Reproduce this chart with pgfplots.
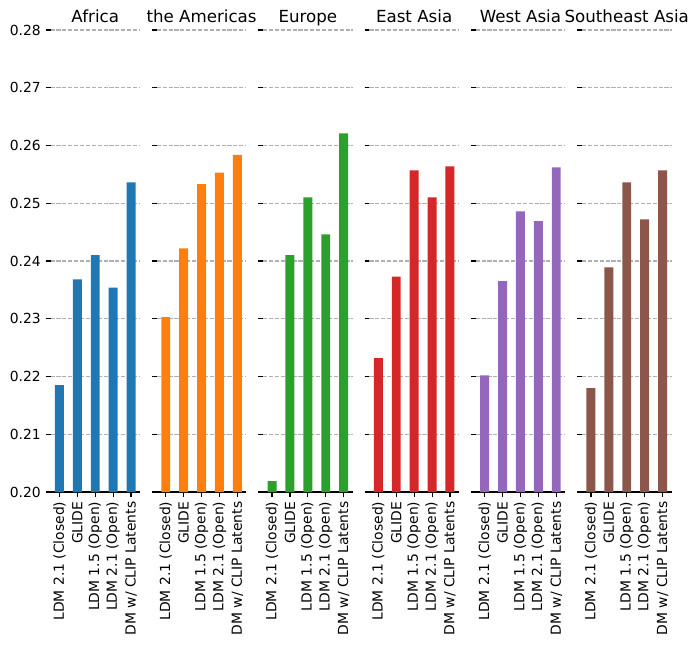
\documentclass[border=0pt]{standalone}
\usepackage{fontspec}
\setmainfont{DejaVu Sans}
\usepackage{pgfplots}
\pgfplotsset{compat=1.18}
\definecolor{c1}{HTML}{1F77B4}
\definecolor{c2}{HTML}{FF7F0E}
\definecolor{c3}{HTML}{2CA02C}
\definecolor{c4}{HTML}{D62728}
\definecolor{c5}{HTML}{9467BD}
\definecolor{c6}{HTML}{8C564B}
\definecolor{gridc}{HTML}{B0B0B0}
\pgfplotsset{
  every axis title/.style={at={(0.5,1)}, anchor=base, yshift=5.5pt, inner sep=0pt, font=\fontsize{12}{14}\selectfont},
  panel/.style={
  scale only axis, width=64.44pt, height=332.64pt,
  anchor=south west,
  xmin=-0.5, xmax=4.5, ymin=0.2, ymax=0.28,
  axis x line*=bottom, axis y line*=left,
  x axis line style={-, black, line width=0.8pt},
  y axis line style={draw=none},
  xtick={0,1,2,3,4},
  xticklabels={LDM 2.1 (Closed), GLIDE, LDM 1.5 (Open), LDM 2.1 (Open), DM w/ CLIP Latents},
  xticklabel style={rotate=90, anchor=east, inner sep=0pt, outer sep=0pt},
  xticklabel shift=3.5pt,
  ytick={0.20,0.21,0.22,0.23,0.24,0.25,0.26,0.27,0.28},
  tick align=outside, major tick length=3.5pt,
  tick style={black, line width=0.8pt},
  ymajorgrids,
  grid style={gridc, line width=0.8pt, dash pattern=on 2.96pt off 1.28pt},
  scaled y ticks=false,
  /pgf/number format/.cd, fixed, fixed zerofill, precision=2, assume math mode=true,
  /pgfplots/.cd,
  clip=true,
}}
\begin{document}
\begin{tikzpicture}
\path[use as bounding box] (0,0) rectangle (502.56pt,464.4pt);
\begin{axis}[panel, at={(36.36pt,110.16pt)}, title={Africa}]
\addplot[ybar, bar width=0.5, fill=c1, draw=none] coordinates {(0,0.2185) (1,0.2368) (2,0.2410) (3,0.2354) (4,0.2536)};
\end{axis}
\begin{axis}[panel, at={(112.90pt,110.16pt)}, title={the Americas}, yticklabels={}]
\addplot[ybar, bar width=0.5, fill=c2, draw=none] coordinates {(0,0.2303) (1,0.2422) (2,0.2533) (3,0.2553) (4,0.2584)};
\end{axis}
\begin{axis}[panel, at={(189.43pt,110.16pt)}, title={Europe}, yticklabels={}]
\addplot[ybar, bar width=0.5, fill=c3, draw=none] coordinates {(0,0.2019) (1,0.2410) (2,0.2510) (3,0.2446) (4,0.2621)};
\end{axis}
\begin{axis}[panel, at={(265.97pt,110.16pt)}, title={East Asia}, yticklabels={}]
\addplot[ybar, bar width=0.5, fill=c4, draw=none] coordinates {(0,0.2232) (1,0.2373) (2,0.2557) (3,0.2510) (4,0.2564)};
\end{axis}
\begin{axis}[panel, at={(342.50pt,110.16pt)}, title={West Asia}, yticklabels={}]
\addplot[ybar, bar width=0.5, fill=c5, draw=none] coordinates {(0,0.2202) (1,0.2365) (2,0.2486) (3,0.2469) (4,0.2562)};
\end{axis}
\begin{axis}[panel, at={(419.04pt,110.16pt)}, title={Southeast Asia}, yticklabels={}]
\addplot[ybar, bar width=0.5, fill=c6, draw=none] coordinates {(0,0.2180) (1,0.2389) (2,0.2536) (3,0.2472) (4,0.2557)};
\end{axis}
\end{tikzpicture}
\end{document}
